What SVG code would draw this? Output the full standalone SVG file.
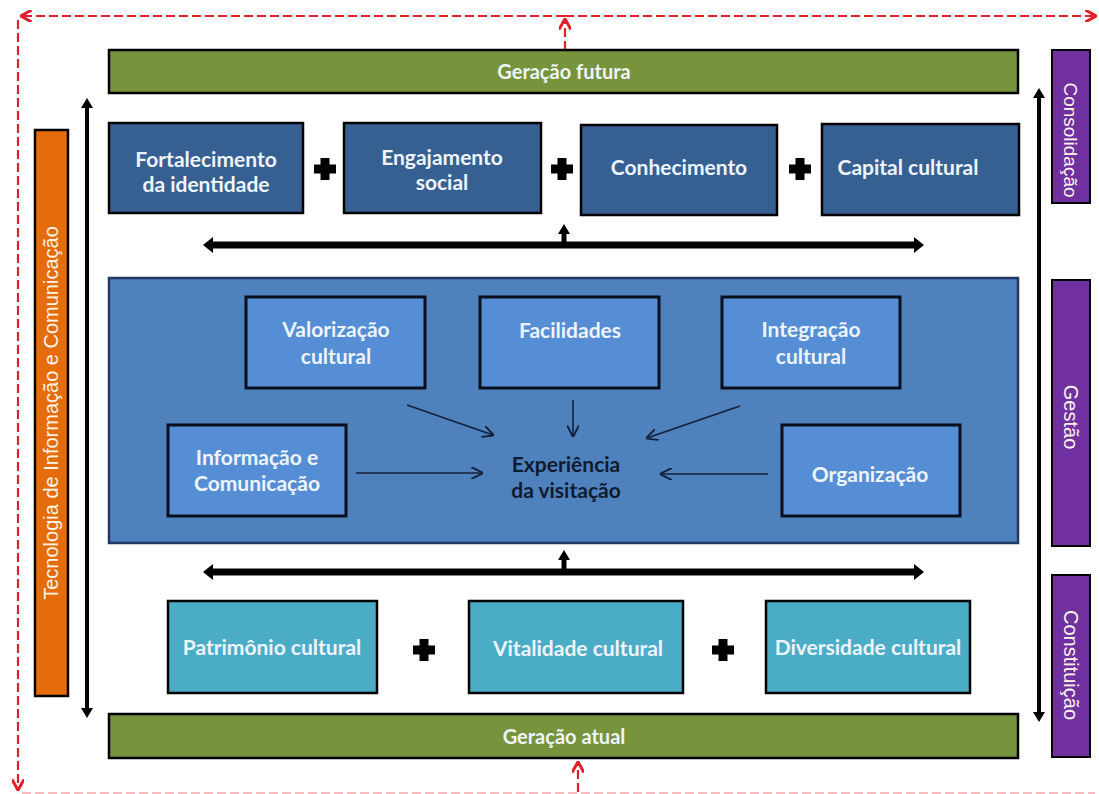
<svg xmlns="http://www.w3.org/2000/svg" xmlns:xlink="http://www.w3.org/1999/xlink" width="1099" height="794" viewBox="0 0 1099 794">
<style>
.box{stroke:#000;stroke-width:2.5}
.top{fill:#376092}
.inner{fill:#558ED5;stroke:#0a0f1e;stroke-width:3}
.bot{fill:#4BACC6}
.green{fill:#77933C;stroke:#000;stroke-width:2.5}
.purple{fill:#7030A0;stroke:#000;stroke-width:2}
.orange{fill:#E46C0A;stroke:#000;stroke-width:2.5}
.t{font-family:Lato,"Liberation Sans",sans-serif;font-weight:bold;font-size:21px;fill:#EEF4FB;text-anchor:middle}
.dark{fill:#0F1B2E}
.side{font-family:"Liberation Sans",Arial,sans-serif;font-size:20px;fill:#FFF3E8;text-anchor:middle}
.thick{stroke:#000;stroke-width:7;fill:none}
.vert{stroke:#000;stroke-width:4;fill:none}
.thin{stroke:#14213D;stroke-width:1.6;fill:none}
.red{stroke:#E0202A;stroke-width:2.2;stroke-dasharray:9 4;fill:none}
</style>
<defs>
<marker id="hThick" viewBox="0 0 10 16" refX="2" refY="8" markerUnits="userSpaceOnUse" markerWidth="10" markerHeight="16" orient="auto-start-reverse"><path d="M0,0 L10,8 L0,16 z" fill="#000"/></marker>
<marker id="hVert" viewBox="0 0 10 12" refX="2" refY="6" markerUnits="userSpaceOnUse" markerWidth="10" markerHeight="12" orient="auto-start-reverse"><path d="M0,0 L10,6 L0,12 z" fill="#000"/></marker>
<marker id="hThin" viewBox="0 0 10 10" refX="9" refY="5" markerUnits="userSpaceOnUse" markerWidth="12" markerHeight="12" orient="auto"><path d="M0,0 L10,5 L0,10" fill="none" stroke="#14213D" stroke-width="1.6"/></marker>
<marker id="hRed" viewBox="0 0 10 10" refX="8" refY="5" markerUnits="userSpaceOnUse" markerWidth="12" markerHeight="12" orient="auto-start-reverse"><path d="M0,0 L9,5 L0,10" fill="none" stroke="#E0202A" stroke-width="2.5"/></marker>
<g id="plus"><rect x="-11" y="-4.5" width="22" height="9" fill="#000"/><rect x="-4.5" y="-11" width="9" height="22" fill="#000"/></g>
</defs>
<rect width="1099" height="794" fill="#fff"/>

<g id="connectors">
<line class="red" x1="565" y1="16" x2="22" y2="16" marker-end="url(#hRed)"/>
<line class="red" x1="565" y1="16" x2="1095" y2="16" marker-end="url(#hRed)"/>
<line class="red" x1="18" y1="20" x2="18" y2="789" marker-end="url(#hRed)"/>
<line class="red" x1="565" y1="50" x2="565" y2="20" marker-end="url(#hRed)"/>
<line class="red" x1="578" y1="792" x2="578" y2="763" marker-end="url(#hRed)"/>
<line class="red" x1="22" y1="793" x2="1095" y2="793" opacity="0.3"/>
<line class="vert" x1="87" y1="106" x2="87" y2="710" marker-start="url(#hVert)" marker-end="url(#hVert)"/>
<line class="vert" x1="1039" y1="96" x2="1039" y2="714" marker-start="url(#hVert)" marker-end="url(#hVert)"/>
<line class="thick" x1="211" y1="245" x2="916" y2="245" marker-start="url(#hThick)" marker-end="url(#hThick)"/>
<line x1="564" y1="245" x2="564" y2="232" stroke="#000" stroke-width="5" marker-end="url(#hVert)"/>
<line class="thick" x1="211" y1="572" x2="916" y2="572" marker-start="url(#hThick)" marker-end="url(#hThick)"/>
<line x1="564" y1="572" x2="564" y2="558" stroke="#000" stroke-width="5" marker-end="url(#hVert)"/>
</g>

<g id="geracao-futura"><rect class="green" x="109" y="50" width="909" height="43"/><text class="t" x="564" y="79" style="font-size:20px">Geração futura</text></g>
<g id="geracao-atual"><rect class="green" x="109" y="714" width="909" height="44"/><text class="t" x="564" y="744" style="font-size:20px">Geração atual</text></g>

<g id="tic"><rect class="orange" x="35" y="130" width="33" height="566"/><text class="side" transform="translate(58,413) rotate(-90)">Tecnologia de Informação e Comunicação</text></g>

<g id="consolidacao"><rect class="purple" x="1052" y="50" width="38" height="153"/><text class="side" style="font-size:19px" transform="translate(1064,140) rotate(90)">Consolidação</text></g>
<g id="gestao"><rect class="purple" x="1052" y="280" width="38" height="266"/><text class="side" transform="translate(1064,417) rotate(90)">Gestão</text></g>
<g id="constituicao"><rect class="purple" x="1052" y="575" width="38" height="182"/><text class="side" transform="translate(1064,665) rotate(90)">Constituição</text></g>

<g id="fortalecimento"><rect class="box top" x="109" y="123" width="194" height="90"/><text class="t" x="206" y="167">Fortalecimento</text><text class="t" x="206" y="192">da identidade</text></g>
<g id="engajamento"><rect class="box top" x="344" y="123" width="197" height="90"/><text class="t" x="442" y="165">Engajamento</text><text class="t" x="442" y="190">social</text></g>
<g id="conhecimento"><rect class="box top" x="581" y="125" width="196" height="90"/><text class="t" x="679" y="175">Conhecimento</text></g>
<g id="capital"><rect class="box top" x="822" y="124" width="197" height="91"/><text class="t" x="908" y="175">Capital cultural</text></g>
<g id="plus-top"><use xlink:href="#plus" x="325" y="169"/><use xlink:href="#plus" x="562" y="169"/><use xlink:href="#plus" x="800" y="169"/></g>

<g id="experiencia-area"><rect x="109" y="278" width="909" height="265" fill="#4F81BD" stroke="#1F3864" stroke-width="2.5"/></g>
<g id="valorizacao"><rect class="inner" x="246" y="297" width="179" height="91"/><text class="t" x="336" y="337">Valorização</text><text class="t" x="336" y="364">cultural</text></g>
<g id="facilidades"><rect class="inner" x="480" y="297" width="179" height="91"/><text class="t" x="570" y="338">Facilidades</text></g>
<g id="integracao"><rect class="inner" x="722" y="297" width="178" height="91"/><text class="t" x="811" y="337">Integração</text><text class="t" x="811" y="364">cultural</text></g>
<g id="informacao"><rect class="inner" x="168" y="425" width="178" height="91"/><text class="t" x="257" y="465">Informação e</text><text class="t" x="257" y="491">Comunicação</text></g>
<g id="organizacao"><rect class="inner" x="782" y="425" width="178" height="91"/><text class="t" x="870" y="482">Organização</text></g>
<g id="experiencia"><text class="t dark" x="566" y="472">Experiência</text><text class="t dark" x="566" y="498">da visitação</text></g>
<g id="thin-arrows">
<line class="thin" x1="407" y1="405" x2="493" y2="435" marker-end="url(#hThin)"/>
<line class="thin" x1="573" y1="400" x2="573" y2="436" marker-end="url(#hThin)"/>
<line class="thin" x1="740" y1="406" x2="647" y2="438" marker-end="url(#hThin)"/>
<line class="thin" x1="356" y1="473" x2="482" y2="473" marker-end="url(#hThin)"/>
<line class="thin" x1="768" y1="474" x2="661" y2="474" marker-end="url(#hThin)"/>
</g>

<g id="patrimonio"><rect class="box bot" x="168" y="601" width="209" height="92"/><text class="t" x="272" y="655">Patrimônio cultural</text></g>
<g id="vitalidade"><rect class="box bot" x="469" y="601" width="214" height="92"/><text class="t" x="578" y="656">Vitalidade cultural</text></g>
<g id="diversidade"><rect class="box bot" x="766" y="601" width="204" height="92"/><text class="t" x="868" y="655">Diversidade cultural</text></g>
<g id="plus-bottom"><use xlink:href="#plus" x="424" y="650"/><use xlink:href="#plus" x="723" y="650"/></g>
</svg>
